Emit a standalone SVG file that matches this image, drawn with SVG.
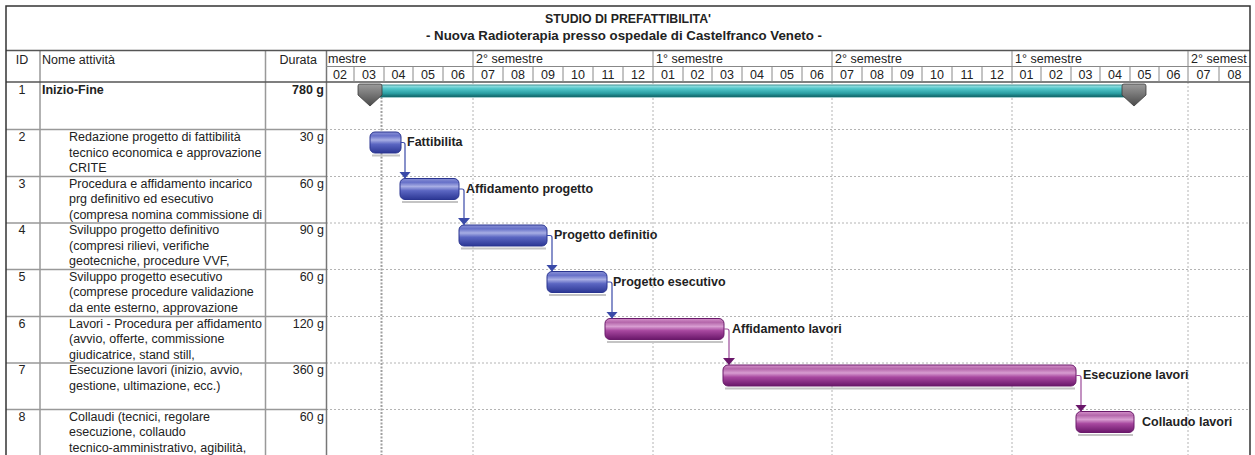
<svg xmlns="http://www.w3.org/2000/svg" width="1255" height="455" viewBox="0 0 1255 455">
<style>
text{font-family:"Liberation Sans",Arial,sans-serif;font-size:12.5px;fill:#222}
.b{font-weight:bold}
.c{text-anchor:middle}
.r{text-anchor:end}
.tl{stroke:#999;stroke-width:1.5;fill:none}
.hl{stroke:#888;stroke-width:1;fill:none}
.grid{stroke:#b4b4b4;stroke-width:1;stroke-dasharray:2 2;fill:none}
.start{stroke:#a0a0a0;stroke-width:2;stroke-dasharray:2 1.5;fill:none}
.bar-b{fill:url(#gb);stroke:#2a3590;stroke-width:1}
.bar-p{fill:url(#gp);stroke:#6a1a6a;stroke-width:1}
.sh{fill:#c4c4c4}
.cb{stroke:#3a4aa8;stroke-width:1.2;fill:none;marker-end:url(#ab)}
.cp{stroke:#9b4a98;stroke-width:1.2;fill:none;marker-end:url(#ap)}
</style>
<defs>
<linearGradient id="gb" x1="0" y1="0" x2="0" y2="1">
<stop offset="0" stop-color="#8a92d6"/><stop offset="0.18" stop-color="#6670c8"/><stop offset="0.38" stop-color="#a8aee4"/><stop offset="0.58" stop-color="#5b66c2"/><stop offset="1" stop-color="#2c3794"/>
</linearGradient>
<linearGradient id="gp" x1="0" y1="0" x2="0" y2="1">
<stop offset="0" stop-color="#d592cb"/><stop offset="0.18" stop-color="#b466aa"/><stop offset="0.38" stop-color="#d89dd1"/><stop offset="0.58" stop-color="#a7479f"/><stop offset="1" stop-color="#6a176a"/>
</linearGradient>
<linearGradient id="gt" x1="0" y1="0" x2="0" y2="1">
<stop offset="0" stop-color="#a8e6e8"/><stop offset="0.3" stop-color="#52c6ca"/><stop offset="0.7" stop-color="#2a9ea2"/><stop offset="1" stop-color="#0f5f62"/>
</linearGradient>
<linearGradient id="gc" x1="0" y1="0" x2="0" y2="1">
<stop offset="0" stop-color="#9c9c9c"/><stop offset="1" stop-color="#4a4a4a"/>
</linearGradient>
<marker id="ab" viewBox="0 0 7 12" refX="7" refY="6" markerWidth="7" markerHeight="12" markerUnits="userSpaceOnUse" orient="auto"><path d="M0,0 L7,6 L0,12 z" fill="#3a4aa8"/></marker>
<marker id="ap" viewBox="0 0 7 12" refX="7" refY="6" markerWidth="7" markerHeight="12" markerUnits="userSpaceOnUse" orient="auto"><path d="M0,0 L7,6 L0,12 z" fill="#6a176a"/></marker>
</defs>
<rect x="0" y="0" width="1255" height="455" fill="#fff"/>

<g id="title">
<text class="b c" x="628" y="23" textLength="166" lengthAdjust="spacingAndGlyphs">STUDIO DI PREFATTIBILITA'</text>
<text class="b c" x="624" y="40" textLength="396" lengthAdjust="spacingAndGlyphs">- Nuova Radioterapia presso ospedale di Castelfranco Veneto -</text>
</g>

<g id="grid">
<path class="grid" d="M326,129.5H1250M326,176.5H1250M326,223H1250M326,269.5H1250M326,316.5H1250M326,363H1250M326,409.5H1250"/>
<path class="grid" d="M473,82V455M653,82V455M832,82V455M1012,82V455M1188,82V455"/>
<path class="start" d="M381.5,97V455"/>
</g>

<g id="table">
<path class="tl" d="M6,129.5H326M6,176.5H326M6,223H326M6,269.5H326M6,316.5H326M6,363H326M6,409.5H326"/>
<path class="tl" d="M40,51V455M265.5,51V455"/>
<path d="M326.5,51V455" stroke="#777" stroke-width="1.5"/>
<path d="M6,50.5H1250M6,82H1250" stroke="#555" stroke-width="1.5"/>
<path class="hl" d="M326,66.5H1250"/>
<path class="hl" d="M473,51V66.5M653,51V66.5M832,51V66.5M1012,51V66.5M1188,51V66.5"/>
<path class="hl" d="M354,66.5V82M384,66.5V82M413,66.5V82M443,66.5V82M473,66.5V82M503,66.5V82M533,66.5V82M563,66.5V82M593,66.5V82M623,66.5V82M653,66.5V82M683,66.5V82M712,66.5V82M742,66.5V82M772,66.5V82M802,66.5V82M832,66.5V82M862,66.5V82M892,66.5V82M922,66.5V82M952,66.5V82M982,66.5V82M1012,66.5V82M1041,66.5V82M1071,66.5V82M1100,66.5V82M1130,66.5V82M1159,66.5V82M1188,66.5V82M1219,66.5V82"/>
<text class="c" x="22" y="64">ID</text>
<text x="42" y="64">Nome attività</text>
<text class="r" x="317" y="64">Durata</text>
<text x="328" y="63">mestre</text>
<text x="476" y="63">2° semestre</text>
<text x="656" y="63">1° semestre</text>
<text x="835" y="63">2° semestre</text>
<text x="1015" y="63">1° semestre</text>
<text x="1191" y="63">2° semest</text>
<g>
<text class="c" x="340" y="79">02</text><text class="c" x="369" y="79">03</text><text class="c" x="398.5" y="79">04</text><text class="c" x="428" y="79">05</text><text class="c" x="458" y="79">06</text><text class="c" x="488" y="79">07</text><text class="c" x="518" y="79">08</text><text class="c" x="548" y="79">09</text><text class="c" x="578" y="79">10</text><text class="c" x="608" y="79">11</text><text class="c" x="638" y="79">12</text><text class="c" x="668" y="79">01</text><text class="c" x="697.5" y="79">02</text><text class="c" x="727" y="79">03</text><text class="c" x="757" y="79">04</text><text class="c" x="787" y="79">05</text><text class="c" x="817" y="79">06</text><text class="c" x="847" y="79">07</text><text class="c" x="877" y="79">08</text><text class="c" x="907" y="79">09</text><text class="c" x="937" y="79">10</text><text class="c" x="967" y="79">11</text><text class="c" x="997" y="79">12</text><text class="c" x="1026.5" y="79">01</text><text class="c" x="1056" y="79">02</text><text class="c" x="1085.5" y="79">03</text><text class="c" x="1115" y="79">04</text><text class="c" x="1144.5" y="79">05</text><text class="c" x="1173.5" y="79">06</text><text class="c" x="1203.5" y="79">07</text><text class="c" x="1234.5" y="79">08</text>
</g>
</g>

<g id="task1">
<text class="c" x="22" y="94">1</text>
<text class="b" x="42" y="94">Inizio-Fine</text>
<text class="b r" x="324" y="94">780 g</text>
<rect x="380" y="85" width="745" height="12" fill="url(#gt)" stroke="#1b7a7d" stroke-width="0.8"/>
<path d="M360,84H380Q382,84 382,86V95L370,106L358,95V86Q358,84 360,84z" fill="url(#gc)" stroke="#3a3a3a" stroke-width="0.8"/>
<path d="M1124,84H1144Q1146,84 1146,86V95L1134,106L1122,95V86Q1122,84 1124,84z" fill="url(#gc)" stroke="#3a3a3a" stroke-width="0.8"/>
</g>

<g id="task2">
<text class="c" x="22" y="141">2</text>
<text x="69" y="141">Redazione progetto di fattibilità</text>
<text x="69" y="156.5">tecnico economica e approvazione</text>
<text x="69" y="172">CRITE</text>
<text class="r" x="324" y="141">30 g</text>
<rect class="sh" x="372" y="154.5" width="28" height="2"/>
<rect class="bar-b" x="370" y="132" width="31" height="21" rx="5"/>
<text class="b" x="407" y="146">Fattibilita</text>
</g>

<g id="task3">
<text class="c" x="22" y="187.5">3</text>
<text x="69" y="187.5">Procedura e affidamento incarico</text>
<text x="69" y="203">prg definitivo ed esecutivo</text>
<text x="69" y="218.5">(compresa nomina commissione di</text>
<text class="r" x="324" y="187.5">60 g</text>
<rect class="sh" x="402" y="201" width="56" height="2"/>
<rect class="bar-b" x="400" y="178.5" width="59" height="21" rx="5"/>
<text class="b" x="466" y="192.5">Affidamento progetto</text>
</g>

<g id="task4">
<text class="c" x="22" y="234">4</text>
<text x="69" y="234">Sviluppo progetto definitivo</text>
<text x="69" y="249.5">(compresi rilievi, verifiche</text>
<text x="69" y="265">geotecniche, procedure VVF,</text>
<text class="r" x="324" y="234">90 g</text>
<rect class="sh" x="461" y="247.5" width="85" height="2"/>
<rect class="bar-b" x="459" y="225" width="88" height="21" rx="5"/>
<text class="b" x="554" y="239">Progetto definitio</text>
</g>

<g id="task5">
<text class="c" x="22" y="280.5">5</text>
<text x="69" y="280.5">Sviluppo progetto esecutivo</text>
<text x="69" y="296">(comprese procedure validazione</text>
<text x="69" y="311.5">da ente esterno, approvazione</text>
<text class="r" x="324" y="280.5">60 g</text>
<rect class="sh" x="549" y="294" width="57" height="2"/>
<rect class="bar-b" x="547" y="271.5" width="60" height="21" rx="5"/>
<text class="b" x="613" y="285.5">Progetto esecutivo</text>
</g>

<g id="task6">
<text class="c" x="22" y="327.5">6</text>
<text x="69" y="327.5">Lavori - Procedura per affidamento</text>
<text x="69" y="343">(avvio,  offerte, commissione</text>
<text x="69" y="358.5">giudicatrice, stand still,</text>
<text class="r" x="324" y="327.5">120 g</text>
<rect class="sh" x="607" y="341" width="116" height="2"/>
<rect class="bar-p" x="605" y="318.5" width="119" height="21" rx="5"/>
<text class="b" x="732" y="332.5">Affidamento lavori</text>
</g>

<g id="task7">
<text class="c" x="22" y="374">7</text>
<text x="69" y="374">Esecuzione lavori (inizio, avvio,</text>
<text x="69" y="389.5">gestione, ultimazione, ecc.)</text>
<text class="r" x="324" y="374">360 g</text>
<rect class="sh" x="725" y="387.5" width="350" height="2"/>
<rect class="bar-p" x="723" y="365" width="353" height="21" rx="5"/>
<text class="b" x="1083" y="379">Esecuzione lavori</text>
</g>

<g id="task8">
<text class="c" x="22" y="420.5">8</text>
<text x="69" y="420.5">Collaudi (tecnici, regolare</text>
<text x="69" y="436">esecuzione, collaudo</text>
<text x="69" y="451.5">tecnico-amministrativo, agibilità,</text>
<text class="r" x="324" y="420.5">60 g</text>
<rect class="sh" x="1078" y="434" width="55" height="2"/>
<rect class="bar-p" x="1076" y="411.5" width="58" height="21" rx="5"/>
<text class="b" x="1142" y="426">Collaudo lavori</text>
</g>

<g id="connectors">
<path class="cb" d="M401,142.5H403Q405,142.5 405,144.5V178.5"/>
<path class="cb" d="M459,189H462Q464,189 464,191V225"/>
<path class="cb" d="M547,235.5H550Q552,235.5 552,237.5V271.5"/>
<path class="cb" d="M607,282H610Q612,282 612,284V318.5"/>
<path class="cp" d="M724,329H727Q729,329 729,331V365"/>
<path class="cp" d="M1076,375.5H1079Q1081,375.5 1081,377.5V411.5"/>
</g>

<rect x="6" y="6" width="1244" height="460" fill="none" stroke="#333" stroke-width="1.5"/>
</svg>
